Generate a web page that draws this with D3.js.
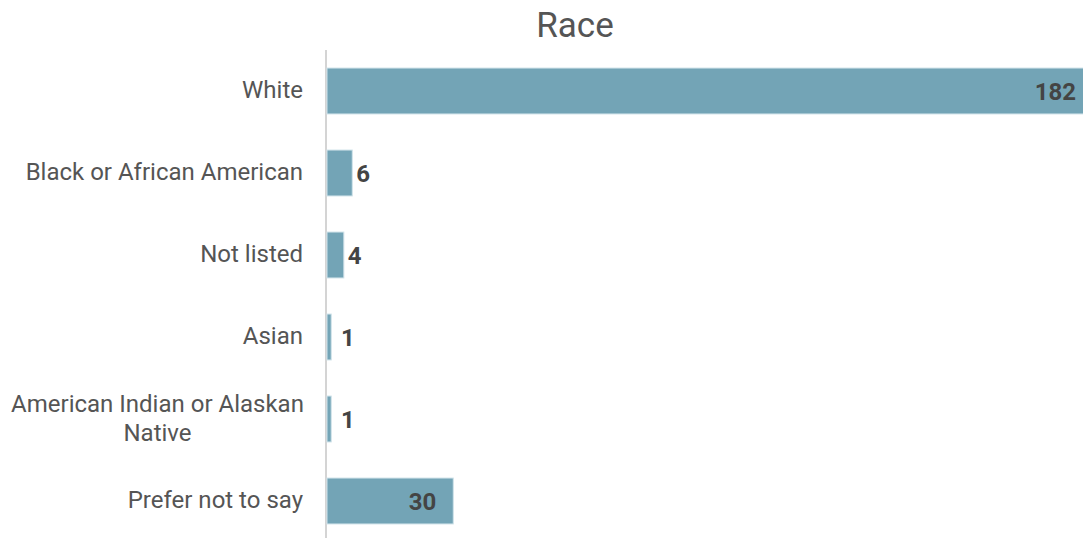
<!DOCTYPE html>
<html><head><meta charset="utf-8">
<script src="https://cdn.jsdelivr.net/npm/d3@7"></script>
<style>
html,body{margin:0;padding:0;background:#fff;overflow:hidden;}
svg{display:block;font-family:Roboto,sans-serif;}
</style></head>
<body>
<svg id="chart" width="1083" height="538"></svg>
<script>
const categories = ["White","Black or African American","Not listed","Asian","American Indian or Alaskan Native","Prefer not to say"];
const labelLines = [["White"],["Black or African American"],["Not listed"],["Asian"],["American Indian or Alaskan","Native"],["Prefer not to say"]];
const values = [182, 6, 4, 1, 1, 30];
const title = "Race";

const W = 1083, H = 538;
const svg = d3.select("#chart");
const x = d3.scaleLinear().domain([0, 182]).range([327, 1093]);
const y = d3.scaleBand().domain(categories).range([50, 542]).paddingInner(0.44).paddingOuter(0.22);

svg.append("text").attr("x", 575).attr("y", 37).attr("text-anchor","middle")
  .attr("font-size", 35).attr("fill","#555").text(title);

svg.append("line").attr("x1",326).attr("x2",326).attr("y1",50).attr("y2",538)
  .attr("stroke","#d4d4d4").attr("stroke-width",2);

svg.selectAll("rect.bar").data(values).join("rect").attr("class","bar")
  .attr("x", x(0)).attr("y",(d,i)=>y(categories[i]))
  .attr("width", d=>x(d)-x(0)).attr("height", y.bandwidth())
  .attr("fill","#73a4b6").attr("stroke","#cfe2e9").attr("stroke-width",1);

const lab = svg.selectAll("text.cat").data(categories).join("text").attr("class","cat")
  .attr("font-size",24).attr("fill","#555");
lab.each(function(c,i){
  const lines = labelLines[i];
  const t = d3.select(this);
  const cy = y(c) + y.bandwidth()/2;
  if (lines.length === 1) {
    t.attr("text-anchor","end").attr("x",303).attr("y",cy+7).text(lines[0]);
  } else {
    t.attr("text-anchor","middle");
    const lh = 29;
    const y0 = cy + 7.4 - lh*(lines.length-1)/2;
    lines.forEach((l,j)=>{
      t.append("tspan").attr("x",157.5).attr("y",y0+j*lh).text(l);
    });
  }
});

svg.selectAll("text.val").data(values).join("text").attr("class","val")
  .attr("font-size",24).attr("font-weight","bold").attr("fill","#444")
  .attr("y",(d,i)=>y(categories[i])+y.bandwidth()/2+9)
  .attr("x", d => d >= 20 ? x(d)-17 : Math.max(x(d), x(0)+10)+4)
  .attr("text-anchor", d => d >= 20 ? "end" : "start")
  .text(d=>d);
</script>
</body></html>
